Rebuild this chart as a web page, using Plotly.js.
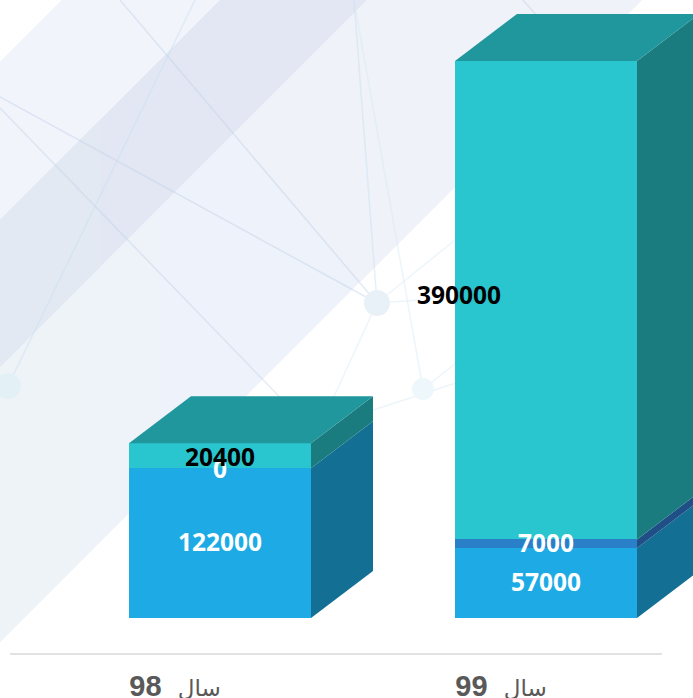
<!DOCTYPE html>
<html>
<head>
<meta charset="utf-8">
<script src="https://cdn.plot.ly/plotly-3.0.1.min.js"></script>
<style>html,body{margin:0;padding:0;background:#fff;overflow:hidden}#c{width:693px;height:698px}</style>
</head>
<body>
<div id="c"></div>
<script>
var yearWord = 'سال';
var years = ['98', '99'];
var seriesBase = [122000, 57000];
var seriesMid = [0, 7000];
var seriesTop = [20400, 390000];

var W = 693, H = 698;
var barWidth = 0.55828, depthX = 0.19018, depthY = 38305;
var frontColors = ['#1eabe5', '#2a7fc9', '#29c6cf'];
var sideColors = ['#136f94', '#1f4f86', '#1a7c7e'];
var topColor = '#1f979c';
var labelColors = ['#ffffff', '#ffffff', '#000000'];
var stacks = [seriesBase, seriesMid, seriesTop];
var nudgeX = [[0, 0], [0, 0], [0, -87]];
var nudgeY = [[2, 2], [0, 1], [-1, 6]];

var tickLabels = years.map(function (y) {
  return '<span style="font-family:\'DejaVu Sans\';font-size:23px;font-weight:400">' + yearWord + '</span>  ' + y;
});

var traces = [];
stacks.forEach(function (s, k) {
  traces.push({type: 'bar', x: [0, 1], y: s, width: barWidth,
    marker: {color: frontColors[k], line: {width: 0}}, hoverinfo: 'skip', showlegend: false});
});
var annotations = [];
function poly(xs, ys, color) {
  traces.push({type: 'scatter', mode: 'lines', x: xs, y: ys, fill: 'toself', fillcolor: color,
    line: {width: 0, color: color}, hoverinfo: 'skip', showlegend: false});
}
years.forEach(function (c, i) {
  var base = 0, r = i + barWidth / 2, l = i - barWidth / 2;
  stacks.forEach(function (s, k) {
    var v = s[i], t = base + v;
    if (v > 0) poly([r, r + depthX, r + depthX, r, r], [base, base + depthY, t + depthY, t, base], sideColors[k]);
    base = t;
  });
  poly([l, l + depthX, r + depthX, r, l], [base, base + depthY, base + depthY, base, base], topColor);
});
[0, 1, 2].forEach(function (k) {
  years.forEach(function (c, i) {
    var b = 0;
    for (var j = 0; j < k; j++) b += stacks[j][i];
    var v = stacks[k][i];
    annotations.push({x: i, y: b + v / 2, xref: 'x', yref: 'y', text: String(v), showarrow: false,
      xanchor: 'center', yanchor: 'middle', xshift: nudgeX[k][i], yshift: nudgeY[k][i],
      font: {family: '"Open Sans", sans-serif', size: 24.5, weight: 700, color: labelColors[k]}});
  });
});

function px(x) { return x / W; }
function py(y) { return 1 - y / (H - 44); }
function polygon(points, color) {
  var d = points.map(function (p, i) { return (i ? 'L ' : 'M ') + px(p[0]) + ' ' + py(p[1]); }).join(' ') + ' Z';
  return {type: 'path', xref: 'paper', yref: 'paper', layer: 'below', line: {width: 0}, fillcolor: color, path: d};
}
function band(a, b, color) {
  return polygon([[a, 0], [b, 0], [0, b], [0, a]], color);
}
function seg(x0, y0, x1, y1, color) {
  return {type: 'line', xref: 'paper', yref: 'paper', layer: 'below', x0: px(x0), y0: py(y0), x1: px(x1), y1: py(y1),
    line: {color: color, width: 1.5}};
}
function node(x, y, r, color) {
  return {type: 'circle', xref: 'paper', yref: 'paper', layer: 'below', x0: px(x - r), x1: px(x + r), y0: py(y - r), y1: py(y + r),
    fillcolor: color, line: {width: 0}};
}
var lineA = 'rgba(190,208,230,0.42)', lineB = 'rgba(200,222,240,0.45)', lineC = 'rgba(215,232,244,0.45)';
var shapes = [
  band(62, 642, '#eef2fa'),
  band(62, 220, '#f1f4fb'),
  polygon([[233, 134], [367, 0], [642, 0], [360, 282]], '#eff2f8'),
  polygon([[158, 209], [158, 484], [0, 642], [0, 367]], '#eef3f9'),
  polygon([[80, 287], [80, 562], [0, 642], [0, 367]], '#eef3f7'),
  band(220, 367, '#e2e7f3'),
  polygon([[100, 120], [100, 267], [0, 367], [0, 220]], '#e2e9f3'),
  seg(120, 0, 377, 303, lineA),
  seg(0, 97, 377, 303, lineA),
  seg(0, 108, 300, 418, lineA),
  seg(195, 0, 8, 386, lineB),
  seg(354, 0, 377, 303, lineB),
  seg(354, 0, 423, 389, lineC),
  seg(377, 303, 460, 236, lineC),
  seg(377, 303, 420, 300, lineC),
  seg(377, 303, 330, 405, lineC),
  seg(423, 389, 460, 360, lineC),
  seg(370, 411, 456, 383, lineC),
  seg(523, 0, 537, 16, lineA),
  node(377, 303, 13, '#e9f1f8'),
  node(8, 386, 13, '#e3f1f7'),
  node(423, 389, 11, '#eef7fb'),
  {type: 'line', xref: 'paper', yref: 'paper', x0: px(10), x1: px(662), y0: py(654), y1: py(654), layer: 'below',
    line: {color: '#d9d9d9', width: 1.5}}
];

var layout = {
  width: W, height: H, barmode: 'stack', showlegend: false,
  paper_bgcolor: '#ffffff', plot_bgcolor: 'rgba(0,0,0,0)',
  margin: {l: 0, r: 0, t: 0, b: 44, autoexpand: false},
  xaxis: {range: [-0.67485, 1.45092], tickmode: 'array', tickvals: [0, 1], ticktext: tickLabels,
    showgrid: false, zeroline: false, showline: false, ticks: '', ticklabelshift: -45, ticklabelstandoff: 12,
    tickfont: {family: '"Liberation Sans", sans-serif', size: 29, weight: 700, color: '#595959'}, fixedrange: true},
  yaxis: {range: [-29340, 503670], visible: false, fixedrange: true},
  shapes: shapes, annotations: annotations
};
Plotly.newPlot('c', traces, layout, {displayModeBar: false, staticPlot: true});
</script>
</body>
</html>
